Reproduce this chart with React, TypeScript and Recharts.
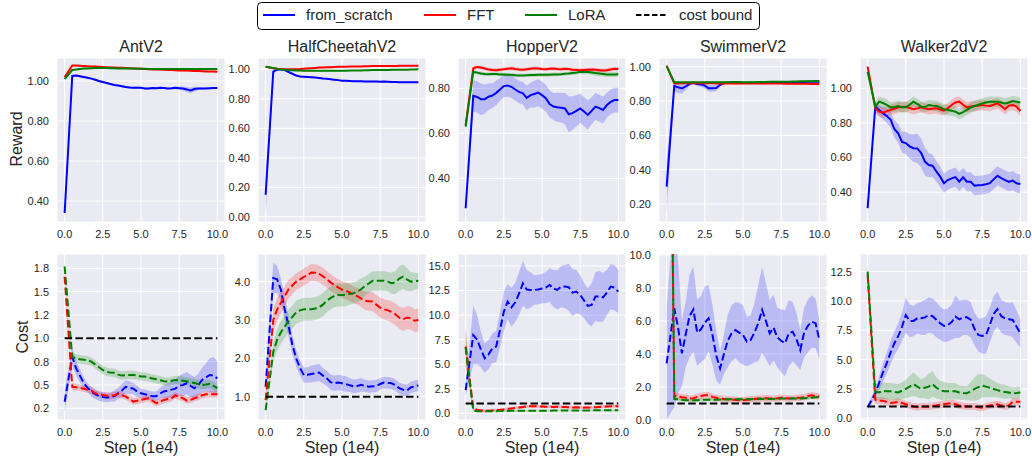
import React from "react";
import {
  ComposedChart,
  Line,
  Area,
  XAxis,
  YAxis,
  CartesianGrid,
  ReferenceLine,
} from "recharts";

// training steps (1e4)
const X = [0, 0.5, 0.75, 1, 1.25, 1.5, 1.75, 2, 2.25, 2.5, 2.75, 3, 3.25, 3.5, 3.75, 4, 4.25, 4.5, 4.75, 5, 5.25, 5.5, 5.75, 6, 6.25, 6.5, 6.75, 7, 7.25, 7.5, 7.75, 8, 8.25, 8.5, 8.75, 9, 9.25, 9.5, 9.75, 10];
const X_TICKS = [0, 2.5, 5, 7.5, 10];
const COST_BOUND = 1;

const METHODS = ["from_scratch", "FFT", "LoRA"];
const ENVS = ["AntV2", "HalfCheetahV2", "HopperV2", "SwimmerV2", "Walker2dV2"];

// ---- reward, AntV2
const ANT_R_SCRATCH = [0.34, 1.025, 1.027, 1.024, 1.02, 1.016, 1.012, 1.006, 1.0, 0.995, 0.99, 0.985, 0.98, 0.977, 0.974, 0.97, 0.967, 0.966, 0.966, 0.966, 0.963, 0.963, 0.965, 0.964, 0.966, 0.965, 0.963, 0.964, 0.966, 0.964, 0.962, 0.958, 0.953, 0.96, 0.962, 0.963, 0.962, 0.964, 0.965, 0.965];
const ANT_R_SCRATCH_SD = [0.02, 0.006, 0.005, 0.005, 0.005, 0.005, 0.005, 0.005, 0.005, 0.005, 0.005, 0.005, 0.005, 0.005, 0.005, 0.005, 0.005, 0.005, 0.005, 0.005, 0.005, 0.005, 0.005, 0.005, 0.005, 0.005, 0.005, 0.006, 0.007, 0.008, 0.01, 0.013, 0.015, 0.012, 0.008, 0.006, 0.005, 0.005, 0.005, 0.005];
const ANT_R_FFT = [1.02, 1.077, 1.077, 1.076, 1.075, 1.074, 1.073, 1.072, 1.071, 1.07, 1.069, 1.068, 1.067, 1.066, 1.066, 1.065, 1.064, 1.063, 1.062, 1.061, 1.06, 1.059, 1.058, 1.058, 1.057, 1.056, 1.055, 1.055, 1.054, 1.053, 1.052, 1.052, 1.051, 1.05, 1.05, 1.049, 1.048, 1.047, 1.047, 1.046];
const ANT_R_FFT_SD = [0.004, 0.004, 0.004, 0.004, 0.004, 0.004, 0.004, 0.004, 0.004, 0.004, 0.004, 0.004, 0.004, 0.004, 0.004, 0.004, 0.004, 0.004, 0.004, 0.004, 0.004, 0.004, 0.004, 0.004, 0.004, 0.004, 0.004, 0.004, 0.004, 0.004, 0.004, 0.004, 0.004, 0.004, 0.004, 0.004, 0.004, 0.004, 0.004, 0.004];
const ANT_R_LORA = [1.01, 1.055, 1.058, 1.06, 1.062, 1.063, 1.064, 1.065, 1.065, 1.065, 1.065, 1.064, 1.064, 1.063, 1.063, 1.062, 1.062, 1.062, 1.061, 1.061, 1.061, 1.06, 1.06, 1.06, 1.06, 1.06, 1.06, 1.06, 1.06, 1.06, 1.06, 1.06, 1.06, 1.06, 1.06, 1.06, 1.06, 1.06, 1.06, 1.06];
const ANT_R_LORA_SD = [0.004, 0.004, 0.004, 0.004, 0.004, 0.004, 0.004, 0.004, 0.004, 0.004, 0.004, 0.004, 0.004, 0.004, 0.004, 0.004, 0.004, 0.004, 0.004, 0.004, 0.004, 0.004, 0.004, 0.004, 0.004, 0.004, 0.004, 0.004, 0.004, 0.004, 0.004, 0.004, 0.004, 0.004, 0.004, 0.004, 0.004, 0.004, 0.004, 0.004];

// ---- reward, HalfCheetahV2
const HC_R_SCRATCH = [0.15, 0.985, 0.998, 1.0, 0.995, 0.982, 0.97, 0.958, 0.952, 0.95, 0.948, 0.946, 0.944, 0.941, 0.938, 0.936, 0.933, 0.93, 0.927, 0.923, 0.922, 0.921, 0.92, 0.92, 0.919, 0.918, 0.918, 0.917, 0.917, 0.916, 0.917, 0.916, 0.915, 0.914, 0.913, 0.912, 0.912, 0.912, 0.912, 0.912];
const HC_R_SCRATCH_SD = [0.14, 0.02, 0.006, 0.005, 0.005, 0.005, 0.005, 0.005, 0.005, 0.005, 0.005, 0.005, 0.005, 0.005, 0.005, 0.005, 0.005, 0.005, 0.005, 0.005, 0.005, 0.005, 0.005, 0.005, 0.005, 0.005, 0.005, 0.005, 0.005, 0.005, 0.005, 0.005, 0.005, 0.005, 0.005, 0.005, 0.005, 0.005, 0.005, 0.005];
const HC_R_FFT = [1.018, 1.008, 1.004, 1.002, 1.0, 1.0, 1.0, 1.001, 1.002, 1.004, 1.006, 1.008, 1.01, 1.012, 1.013, 1.014, 1.015, 1.016, 1.017, 1.018, 1.018, 1.019, 1.02, 1.02, 1.02, 1.021, 1.021, 1.022, 1.022, 1.022, 1.022, 1.023, 1.023, 1.023, 1.024, 1.024, 1.024, 1.024, 1.025, 1.025];
const HC_R_FFT_SD = [0.004, 0.004, 0.004, 0.004, 0.004, 0.004, 0.004, 0.004, 0.004, 0.004, 0.004, 0.004, 0.004, 0.004, 0.004, 0.004, 0.004, 0.004, 0.004, 0.004, 0.004, 0.004, 0.004, 0.004, 0.004, 0.004, 0.004, 0.004, 0.004, 0.004, 0.004, 0.004, 0.004, 0.004, 0.004, 0.004, 0.004, 0.004, 0.004, 0.004];
const HC_R_LORA = [1.018, 1.01, 1.004, 0.999, 0.997, 0.995, 0.994, 0.993, 0.992, 0.991, 0.991, 0.99, 0.99, 0.99, 0.99, 0.99, 0.99, 0.99, 0.991, 0.991, 0.991, 0.992, 0.992, 0.993, 0.993, 0.994, 0.994, 0.995, 0.995, 0.995, 0.996, 0.996, 0.997, 0.997, 0.998, 0.998, 0.998, 0.999, 0.999, 1.0];
const HC_R_LORA_SD = [0.004, 0.004, 0.004, 0.004, 0.004, 0.004, 0.004, 0.004, 0.004, 0.004, 0.004, 0.004, 0.004, 0.004, 0.004, 0.004, 0.004, 0.004, 0.004, 0.004, 0.004, 0.004, 0.004, 0.004, 0.004, 0.004, 0.004, 0.004, 0.004, 0.004, 0.004, 0.004, 0.004, 0.004, 0.004, 0.004, 0.004, 0.004, 0.004, 0.004];

// ---- reward, HopperV2
const HOP_R_SCRATCH = [0.267, 0.767, 0.762, 0.752, 0.752, 0.763, 0.768, 0.78, 0.795, 0.81, 0.813, 0.807, 0.795, 0.784, 0.778, 0.758, 0.77, 0.775, 0.781, 0.77, 0.756, 0.73, 0.719, 0.716, 0.714, 0.711, 0.685, 0.69, 0.7, 0.711, 0.697, 0.682, 0.7, 0.719, 0.712, 0.704, 0.726, 0.74, 0.748, 0.748];
const HOP_R_SCRATCH_SD = [0.02, 0.07, 0.07, 0.07, 0.065, 0.06, 0.055, 0.055, 0.05, 0.05, 0.05, 0.05, 0.05, 0.05, 0.05, 0.055, 0.055, 0.06, 0.06, 0.06, 0.06, 0.06, 0.06, 0.065, 0.065, 0.07, 0.08, 0.075, 0.07, 0.065, 0.065, 0.065, 0.06, 0.06, 0.06, 0.06, 0.055, 0.055, 0.055, 0.055];
const HOP_R_FFT = [0.637, 0.889, 0.895, 0.893, 0.888, 0.884, 0.882, 0.881, 0.883, 0.885, 0.887, 0.889, 0.886, 0.884, 0.883, 0.885, 0.887, 0.889, 0.888, 0.886, 0.885, 0.887, 0.888, 0.886, 0.885, 0.887, 0.886, 0.883, 0.882, 0.881, 0.882, 0.883, 0.884, 0.883, 0.881, 0.879, 0.881, 0.884, 0.887, 0.886];
const HOP_R_FFT_SD = [0.015, 0.008, 0.008, 0.008, 0.008, 0.008, 0.008, 0.008, 0.008, 0.008, 0.008, 0.008, 0.008, 0.008, 0.008, 0.008, 0.008, 0.008, 0.008, 0.008, 0.008, 0.008, 0.008, 0.008, 0.008, 0.008, 0.008, 0.008, 0.008, 0.008, 0.008, 0.008, 0.008, 0.008, 0.008, 0.008, 0.008, 0.008, 0.008, 0.008];
const HOP_R_LORA = [0.63, 0.874, 0.87, 0.866, 0.864, 0.863, 0.864, 0.864, 0.862, 0.862, 0.861, 0.86, 0.858, 0.857, 0.857, 0.858, 0.859, 0.859, 0.86, 0.86, 0.86, 0.861, 0.862, 0.862, 0.863, 0.865, 0.866, 0.868, 0.87, 0.874, 0.873, 0.873, 0.871, 0.868, 0.866, 0.864, 0.862, 0.862, 0.862, 0.863];
const HOP_R_LORA_SD = [0.015, 0.008, 0.008, 0.008, 0.008, 0.008, 0.008, 0.008, 0.008, 0.008, 0.008, 0.008, 0.008, 0.008, 0.008, 0.008, 0.008, 0.008, 0.008, 0.008, 0.008, 0.008, 0.008, 0.008, 0.008, 0.008, 0.008, 0.009, 0.009, 0.01, 0.01, 0.01, 0.011, 0.011, 0.012, 0.012, 0.012, 0.012, 0.012, 0.012];

// ---- reward, SwimmerV2
const SW_R_SCRATCH = [0.301, 0.888, 0.88, 0.874, 0.885, 0.9, 0.907, 0.9, 0.897, 0.89, 0.874, 0.874, 0.876, 0.895, 0.905, 0.906, 0.906, 0.905, 0.906, 0.905, 0.906, 0.907, 0.906, 0.907, 0.906, 0.907, 0.908, 0.908, 0.908, 0.909, 0.909, 0.91, 0.91, 0.911, 0.911, 0.911, 0.912, 0.912, 0.912, 0.913];
const SW_R_SCRATCH_SD = [0.155, 0.03, 0.035, 0.03, 0.02, 0.012, 0.01, 0.012, 0.015, 0.018, 0.02, 0.02, 0.018, 0.012, 0.008, 0.007, 0.007, 0.007, 0.006, 0.006, 0.006, 0.006, 0.006, 0.006, 0.006, 0.006, 0.006, 0.006, 0.006, 0.006, 0.006, 0.006, 0.006, 0.006, 0.006, 0.006, 0.006, 0.006, 0.006, 0.006];
const SW_R_FFT = [1.006, 0.903, 0.903, 0.904, 0.904, 0.904, 0.904, 0.904, 0.904, 0.904, 0.904, 0.904, 0.903, 0.903, 0.903, 0.903, 0.903, 0.903, 0.902, 0.902, 0.902, 0.902, 0.902, 0.902, 0.902, 0.902, 0.902, 0.902, 0.902, 0.902, 0.901, 0.901, 0.901, 0.901, 0.901, 0.901, 0.901, 0.9, 0.9, 0.9];
const SW_R_FFT_SD = [0.004, 0.004, 0.004, 0.004, 0.004, 0.004, 0.004, 0.004, 0.004, 0.004, 0.004, 0.004, 0.004, 0.004, 0.004, 0.004, 0.004, 0.004, 0.004, 0.004, 0.004, 0.004, 0.004, 0.004, 0.004, 0.004, 0.004, 0.004, 0.004, 0.004, 0.004, 0.004, 0.004, 0.004, 0.004, 0.004, 0.004, 0.004, 0.004, 0.004];
const SW_R_LORA = [1.004, 0.908, 0.909, 0.909, 0.909, 0.909, 0.909, 0.909, 0.909, 0.909, 0.909, 0.909, 0.909, 0.909, 0.91, 0.91, 0.911, 0.911, 0.911, 0.91, 0.91, 0.91, 0.91, 0.911, 0.911, 0.911, 0.912, 0.912, 0.912, 0.912, 0.913, 0.913, 0.914, 0.914, 0.915, 0.915, 0.916, 0.916, 0.917, 0.917];
const SW_R_LORA_SD = [0.004, 0.004, 0.004, 0.004, 0.004, 0.004, 0.004, 0.004, 0.004, 0.004, 0.004, 0.004, 0.004, 0.004, 0.004, 0.004, 0.004, 0.004, 0.004, 0.004, 0.004, 0.004, 0.004, 0.004, 0.004, 0.004, 0.004, 0.004, 0.004, 0.004, 0.004, 0.004, 0.004, 0.004, 0.004, 0.004, 0.004, 0.004, 0.004, 0.004];

// ---- reward, Walker2dV2
const WALK_R_SCRATCH = [0.308, 0.894, 0.875, 0.856, 0.84, 0.82, 0.765, 0.74, 0.69, 0.684, 0.665, 0.654, 0.653, 0.627, 0.577, 0.557, 0.553, 0.52, 0.49, 0.452, 0.47, 0.48, 0.487, 0.461, 0.486, 0.461, 0.46, 0.438, 0.44, 0.442, 0.446, 0.452, 0.474, 0.495, 0.482, 0.47, 0.46, 0.467, 0.452, 0.448];
const WALK_R_SCRATCH_SD = [0.04, 0.03, 0.03, 0.035, 0.04, 0.045, 0.05, 0.055, 0.06, 0.065, 0.07, 0.08, 0.085, 0.085, 0.08, 0.07, 0.065, 0.06, 0.06, 0.055, 0.055, 0.055, 0.055, 0.055, 0.055, 0.055, 0.055, 0.055, 0.055, 0.055, 0.055, 0.055, 0.055, 0.055, 0.055, 0.055, 0.055, 0.055, 0.055, 0.055];
const WALK_R_FFT = [1.125, 0.885, 0.865, 0.859, 0.868, 0.875, 0.882, 0.89, 0.892, 0.894, 0.886, 0.879, 0.884, 0.89, 0.884, 0.879, 0.882, 0.885, 0.878, 0.871, 0.885, 0.904, 0.918, 0.923, 0.905, 0.89, 0.895, 0.898, 0.9, 0.904, 0.9, 0.898, 0.905, 0.913, 0.898, 0.879, 0.9, 0.904, 0.895, 0.869];
const WALK_R_FFT_SD = [0.012, 0.025, 0.03, 0.03, 0.03, 0.03, 0.03, 0.03, 0.03, 0.03, 0.03, 0.03, 0.03, 0.03, 0.03, 0.03, 0.03, 0.03, 0.03, 0.03, 0.03, 0.03, 0.03, 0.03, 0.03, 0.03, 0.03, 0.03, 0.03, 0.03, 0.03, 0.03, 0.03, 0.03, 0.03, 0.03, 0.03, 0.03, 0.03, 0.03];
const WALK_R_LORA = [1.096, 0.894, 0.923, 0.915, 0.905, 0.89, 0.892, 0.898, 0.89, 0.89, 0.905, 0.923, 0.91, 0.894, 0.892, 0.904, 0.9, 0.898, 0.89, 0.879, 0.875, 0.871, 0.865, 0.852, 0.862, 0.875, 0.888, 0.898, 0.905, 0.913, 0.918, 0.923, 0.923, 0.923, 0.918, 0.913, 0.918, 0.926, 0.922, 0.918];
const WALK_R_LORA_SD = [0.012, 0.03, 0.03, 0.03, 0.03, 0.03, 0.03, 0.03, 0.03, 0.03, 0.03, 0.03, 0.03, 0.03, 0.03, 0.03, 0.03, 0.03, 0.03, 0.03, 0.03, 0.03, 0.03, 0.03, 0.03, 0.03, 0.03, 0.03, 0.03, 0.03, 0.03, 0.03, 0.03, 0.03, 0.03, 0.03, 0.03, 0.03, 0.03, 0.03];

// ---- cost, AntV2
const ANT_C_SCRATCH = [0.32, 0.8, 0.68, 0.6, 0.52, 0.47, 0.43, 0.4, 0.38, 0.37, 0.365, 0.37, 0.38, 0.41, 0.44, 0.48, 0.47, 0.46, 0.43, 0.41, 0.4, 0.39, 0.38, 0.38, 0.41, 0.43, 0.44, 0.45, 0.46, 0.49, 0.5, 0.518, 0.49, 0.464, 0.5, 0.553, 0.58, 0.607, 0.6, 0.57];
const ANT_C_SCRATCH_SD = [0.12, 0.1, 0.08, 0.07, 0.06, 0.05, 0.05, 0.05, 0.05, 0.05, 0.05, 0.05, 0.06, 0.06, 0.07, 0.07, 0.07, 0.06, 0.06, 0.05, 0.05, 0.05, 0.05, 0.05, 0.06, 0.07, 0.08, 0.09, 0.1, 0.11, 0.12, 0.12, 0.12, 0.12, 0.12, 0.13, 0.15, 0.18, 0.2, 0.18];
const ANT_C_FFT = [1.66, 0.48, 0.475, 0.47, 0.46, 0.45, 0.44, 0.41, 0.4, 0.393, 0.385, 0.382, 0.39, 0.404, 0.39, 0.375, 0.35, 0.321, 0.33, 0.339, 0.35, 0.357, 0.33, 0.304, 0.32, 0.339, 0.35, 0.357, 0.39, 0.37, 0.357, 0.332, 0.34, 0.357, 0.37, 0.39, 0.4, 0.4, 0.4, 0.4];
const ANT_C_FFT_SD = [0.06, 0.04, 0.035, 0.035, 0.035, 0.035, 0.035, 0.035, 0.035, 0.035, 0.035, 0.035, 0.035, 0.035, 0.035, 0.035, 0.035, 0.035, 0.035, 0.035, 0.035, 0.035, 0.035, 0.035, 0.035, 0.035, 0.035, 0.035, 0.035, 0.035, 0.035, 0.035, 0.035, 0.035, 0.035, 0.035, 0.035, 0.035, 0.035, 0.035];
const ANT_C_LORA = [1.77, 0.8, 0.785, 0.775, 0.77, 0.765, 0.75, 0.72, 0.69, 0.66, 0.64, 0.632, 0.63, 0.61, 0.6, 0.605, 0.607, 0.607, 0.6, 0.59, 0.59, 0.58, 0.57, 0.56, 0.55, 0.54, 0.536, 0.545, 0.553, 0.55, 0.546, 0.54, 0.53, 0.52, 0.51, 0.5, 0.505, 0.511, 0.49, 0.465];
const ANT_C_LORA_SD = [0.05, 0.045, 0.045, 0.045, 0.045, 0.045, 0.045, 0.045, 0.045, 0.045, 0.045, 0.045, 0.045, 0.045, 0.045, 0.045, 0.045, 0.045, 0.045, 0.045, 0.045, 0.045, 0.045, 0.045, 0.045, 0.045, 0.045, 0.045, 0.045, 0.045, 0.045, 0.045, 0.045, 0.045, 0.045, 0.045, 0.045, 0.045, 0.045, 0.045];

// ---- cost, HalfCheetahV2
const HC_C_SCRATCH = [1.26, 4.09, 4.06, 3.79, 3.27, 2.85, 2.35, 2.0, 1.75, 1.56, 1.57, 1.59, 1.61, 1.63, 1.55, 1.48, 1.38, 1.35, 1.37, 1.35, 1.33, 1.3, 1.27, 1.28, 1.31, 1.28, 1.26, 1.27, 1.28, 1.33, 1.37, 1.36, 1.35, 1.3, 1.22, 1.18, 1.16, 1.24, 1.27, 1.29];
const HC_C_SCRATCH_SD = [0.3, 0.4, 0.35, 0.3, 0.3, 0.28, 0.25, 0.22, 0.2, 0.2, 0.2, 0.22, 0.22, 0.22, 0.2, 0.2, 0.2, 0.2, 0.2, 0.2, 0.2, 0.18, 0.18, 0.18, 0.18, 0.16, 0.16, 0.16, 0.16, 0.15, 0.15, 0.15, 0.15, 0.15, 0.15, 0.15, 0.15, 0.15, 0.15, 0.15];
const HC_C_FFT = [0.91, 3.0, 3.27, 3.45, 3.62, 3.8, 3.9, 4.0, 4.06, 4.12, 4.18, 4.24, 4.23, 4.2, 4.14, 4.06, 3.98, 3.91, 3.85, 3.79, 3.76, 3.72, 3.66, 3.62, 3.56, 3.5, 3.49, 3.48, 3.4, 3.32, 3.28, 3.25, 3.21, 3.15, 3.06, 3.02, 3.06, 3.05, 2.98, 3.0];
const HC_C_FFT_SD = [0.1, 0.3, 0.3, 0.28, 0.26, 0.24, 0.22, 0.22, 0.22, 0.22, 0.22, 0.22, 0.22, 0.22, 0.22, 0.22, 0.22, 0.22, 0.22, 0.22, 0.22, 0.22, 0.22, 0.22, 0.22, 0.24, 0.24, 0.25, 0.25, 0.26, 0.26, 0.27, 0.28, 0.28, 0.29, 0.3, 0.3, 0.3, 0.3, 0.3];
const HC_C_LORA = [0.65, 2.17, 2.48, 2.68, 2.83, 2.97, 3.08, 3.2, 3.25, 3.28, 3.28, 3.28, 3.3, 3.33, 3.4, 3.5, 3.57, 3.63, 3.65, 3.65, 3.66, 3.68, 3.7, 3.74, 3.8, 3.88, 3.95, 4.02, 4.02, 4.02, 4.02, 4.0, 3.96, 3.98, 4.08, 4.13, 4.06, 4.0, 4.01, 4.02];
const HC_C_LORA_SD = [0.1, 0.25, 0.28, 0.3, 0.3, 0.3, 0.3, 0.3, 0.3, 0.3, 0.3, 0.3, 0.3, 0.3, 0.3, 0.3, 0.3, 0.3, 0.3, 0.3, 0.3, 0.28, 0.28, 0.28, 0.28, 0.25, 0.25, 0.25, 0.25, 0.25, 0.25, 0.25, 0.28, 0.3, 0.32, 0.32, 0.3, 0.25, 0.22, 0.2];

// ---- cost, HopperV2
const HOP_C_SCRATCH = [2.37, 7.97, 7.5, 6.5, 5.6, 6.0, 6.62, 6.8, 8.48, 10.35, 11.37, 10.79, 11.3, 12.2, 13.24, 12.6, 12.56, 12.56, 12.6, 12.7, 12.8, 13.07, 12.7, 12.56, 12.9, 12.9, 12.84, 12.29, 12.39, 12.05, 11.5, 10.93, 11.03, 11.9, 11.9, 11.81, 12.3, 12.9, 12.8, 12.39];
const HOP_C_SCRATCH_SD = [0.6, 3.0, 2.5, 1.8, 1.5, 1.5, 1.5, 1.6, 1.8, 2.0, 1.8, 2.0, 2.0, 2.2, 2.3, 2.0, 1.8, 1.5, 1.5, 1.5, 1.6, 1.7, 1.9, 2.0, 2.1, 2.2, 2.4, 2.4, 2.2, 2.0, 1.8, 1.8, 2.2, 2.5, 2.6, 2.5, 2.3, 2.3, 2.3, 2.2];
const HOP_C_FFT = [6.8, 0.5, 0.35, 0.28, 0.27, 0.27, 0.3, 0.32, 0.35, 0.4, 0.45, 0.5, 0.55, 0.6, 0.65, 0.7, 0.72, 0.72, 0.7, 0.7, 0.68, 0.66, 0.65, 0.66, 0.65, 0.64, 0.62, 0.6, 0.62, 0.6, 0.58, 0.58, 0.6, 0.62, 0.65, 0.68, 0.7, 0.72, 0.75, 0.7];
const HOP_C_FFT_SD = [2.0, 0.15, 0.15, 0.15, 0.15, 0.15, 0.15, 0.15, 0.15, 0.15, 0.15, 0.15, 0.15, 0.15, 0.15, 0.15, 0.15, 0.15, 0.15, 0.15, 0.15, 0.15, 0.15, 0.15, 0.15, 0.15, 0.15, 0.15, 0.15, 0.15, 0.15, 0.15, 0.15, 0.15, 0.15, 0.15, 0.15, 0.15, 0.15, 0.15];
const HOP_C_LORA = [6.7, 0.27, 0.22, 0.2, 0.2, 0.2, 0.22, 0.22, 0.23, 0.23, 0.24, 0.25, 0.25, 0.25, 0.25, 0.25, 0.26, 0.26, 0.26, 0.27, 0.27, 0.27, 0.28, 0.28, 0.28, 0.28, 0.28, 0.29, 0.29, 0.29, 0.29, 0.29, 0.3, 0.3, 0.3, 0.3, 0.3, 0.3, 0.3, 0.3];
const HOP_C_LORA_SD = [1.8, 0.08, 0.08, 0.08, 0.08, 0.08, 0.08, 0.08, 0.08, 0.08, 0.08, 0.08, 0.08, 0.08, 0.08, 0.08, 0.08, 0.08, 0.08, 0.08, 0.08, 0.08, 0.08, 0.08, 0.08, 0.08, 0.08, 0.08, 0.08, 0.08, 0.08, 0.08, 0.08, 0.08, 0.08, 0.08, 0.08, 0.08, 0.08, 0.08];

// ---- cost, SwimmerV2
const SW_C_SCRATCH = [3.43, 6.77, 5.6, 4.04, 5.2, 6.3, 6.7, 5.3, 5.5, 5.9, 6.16, 5.15, 3.9, 3.13, 4.0, 4.8, 5.25, 5.45, 5.3, 5.15, 4.75, 4.85, 5.3, 5.86, 6.67, 6.0, 5.25, 5.6, 5.0, 4.8, 4.65, 5.25, 5.35, 4.9, 4.24, 5.3, 5.7, 5.96, 5.86, 4.85];
const SW_C_SCRATCH_SD = [3.4, 6.0, 4.0, 2.0, 2.0, 2.5, 2.6, 2.0, 2.0, 2.2, 2.0, 1.8, 1.5, 1.0, 1.2, 1.6, 1.7, 1.7, 1.8, 1.8, 1.5, 1.5, 1.8, 2.3, 2.6, 2.3, 2.0, 2.0, 1.8, 1.9, 2.0, 2.0, 1.8, 1.6, 1.2, 1.5, 1.6, 1.6, 1.5, 1.2];
const SW_C_FFT = [45, 1.47, 1.42, 1.38, 1.35, 1.3, 1.32, 1.4, 1.45, 1.5, 1.5, 1.4, 1.35, 1.3, 1.28, 1.25, 1.22, 1.22, 1.2, 1.2, 1.22, 1.25, 1.27, 1.3, 1.3, 1.32, 1.3, 1.3, 1.32, 1.35, 1.33, 1.3, 1.32, 1.35, 1.35, 1.38, 1.45, 1.5, 1.45, 1.42];
const SW_C_FFT_SD = [5, 0.2, 0.2, 0.2, 0.2, 0.2, 0.2, 0.2, 0.2, 0.2, 0.2, 0.2, 0.2, 0.2, 0.2, 0.2, 0.2, 0.2, 0.2, 0.2, 0.2, 0.2, 0.2, 0.2, 0.2, 0.2, 0.2, 0.2, 0.2, 0.2, 0.2, 0.2, 0.2, 0.2, 0.2, 0.2, 0.2, 0.2, 0.2, 0.2];
const SW_C_LORA = [46, 1.27, 1.25, 1.22, 1.2, 1.2, 1.2, 1.2, 1.22, 1.22, 1.22, 1.22, 1.22, 1.24, 1.24, 1.25, 1.25, 1.25, 1.25, 1.25, 1.26, 1.26, 1.27, 1.28, 1.28, 1.28, 1.28, 1.28, 1.28, 1.3, 1.3, 1.3, 1.3, 1.3, 1.3, 1.32, 1.33, 1.35, 1.38, 1.4];
const SW_C_LORA_SD = [5, 0.1, 0.1, 0.1, 0.1, 0.1, 0.1, 0.1, 0.1, 0.1, 0.1, 0.1, 0.1, 0.1, 0.1, 0.1, 0.1, 0.1, 0.1, 0.1, 0.1, 0.1, 0.1, 0.1, 0.1, 0.1, 0.1, 0.1, 0.1, 0.1, 0.1, 0.1, 0.1, 0.1, 0.1, 0.1, 0.1, 0.1, 0.1, 0.1];

// ---- cost, Walker2dV2
const WALK_C_SCRATCH = [0.94, 2.13, 3.0, 3.9, 4.7, 5.6, 6.4, 7.0, 7.8, 8.8, 8.3, 8.3, 8.52, 8.52, 8.6, 8.8, 8.7, 8.4, 8.1, 7.87, 7.95, 8.2, 8.66, 8.44, 8.6, 8.6, 8.4, 7.6, 7.1, 7.02, 7.1, 7.95, 8.9, 9.3, 8.7, 8.5, 8.44, 8.38, 7.81, 7.24];
const WALK_C_SCRATCH_SD = [0.2, 0.4, 0.6, 0.8, 0.9, 1.0, 1.0, 1.1, 1.2, 1.5, 1.4, 1.3, 1.3, 1.4, 1.5, 1.5, 1.5, 1.5, 1.4, 1.4, 1.4, 1.5, 1.8, 1.6, 1.5, 1.5, 1.5, 1.4, 1.4, 1.5, 1.6, 1.5, 1.5, 1.5, 1.4, 1.4, 1.4, 1.5, 1.4, 1.2];
const WALK_C_FFT = [12.2, 1.56, 1.5, 1.5, 1.4, 1.3, 1.35, 1.4, 1.3, 1.2, 1.1, 1.0, 0.95, 1.0, 1.0, 1.0, 1.05, 1.1, 1.15, 1.2, 1.25, 1.3, 1.2, 1.1, 1.05, 1.0, 1.0, 1.0, 0.95, 0.9, 1.0, 1.1, 1.15, 1.2, 1.1, 1.0, 1.1, 1.4, 1.4, 1.4];
const WALK_C_FFT_SD = [0.5, 0.3, 0.3, 0.3, 0.3, 0.3, 0.3, 0.3, 0.3, 0.3, 0.3, 0.3, 0.3, 0.3, 0.3, 0.3, 0.3, 0.3, 0.3, 0.3, 0.3, 0.3, 0.3, 0.3, 0.3, 0.3, 0.3, 0.3, 0.3, 0.3, 0.3, 0.3, 0.3, 0.3, 0.3, 0.3, 0.3, 0.3, 0.3, 0.3];
const WALK_C_LORA = [12.5, 2.27, 2.2, 2.35, 2.3, 2.3, 2.25, 2.2, 2.35, 2.5, 2.7, 2.92, 2.7, 2.5, 2.6, 2.7, 2.92, 2.6, 2.4, 2.3, 2.3, 2.3, 2.3, 2.2, 2.15, 2.13, 2.3, 2.5, 2.65, 2.78, 2.7, 2.6, 2.5, 2.4, 2.3, 2.25, 2.2, 2.13, 2.15, 2.2];
const WALK_C_LORA_SD = [0.7, 0.7, 0.7, 0.7, 0.7, 0.7, 0.7, 0.7, 0.7, 0.8, 0.9, 1.0, 0.9, 0.8, 0.9, 1.1, 1.1, 0.9, 0.8, 0.8, 0.7, 0.7, 0.7, 0.6, 0.6, 0.6, 0.8, 1.0, 1.1, 1.0, 0.9, 0.8, 0.7, 0.6, 0.6, 0.6, 0.5, 0.5, 0.5, 0.5];

// y axes
const ANT_COST_TICKS = [0.25, 0.5, 0.75, 1.0, 1.25, 1.5, 1.75];
const ANT_COST_TICK_LABELS = ["0.2", "0.5", "0.8", "1.0", "1.2", "1.5", "1.8"];

const BLUE = "#0000ff";
const RED = "#ff0000";
const GREEN = "#008000";
const TEXT = "#262626";
const FONT = '"Liberation Sans", Arial, sans-serif';

type Panel = {
  scratch: number[];
  scratchSd: number[];
  fft: number[];
  fftSd: number[];
  lora: number[];
  loraSd: number[];
  domain: [number, number];
  ticks: number[];
  labels?: string[];
  digits: number;
};

const REWARD_PANELS: Panel[] = [
  { scratch: ANT_R_SCRATCH, scratchSd: ANT_R_SCRATCH_SD, fft: ANT_R_FFT, fftSd: ANT_R_FFT_SD, lora: ANT_R_LORA, loraSd: ANT_R_LORA_SD, domain: [0.295, 1.115], ticks: [0.4, 0.6, 0.8, 1.0], digits: 2 },
  { scratch: HC_R_SCRATCH, scratchSd: HC_R_SCRATCH_SD, fft: HC_R_FFT, fftSd: HC_R_FFT_SD, lora: HC_R_LORA, loraSd: HC_R_LORA_SD, domain: [-0.035, 1.077], ticks: [0, 0.2, 0.4, 0.6, 0.8, 1.0], digits: 2 },
  { scratch: HOP_R_SCRATCH, scratchSd: HOP_R_SCRATCH_SD, fft: HOP_R_FFT, fftSd: HOP_R_FFT_SD, lora: HOP_R_LORA, loraSd: HOP_R_LORA_SD, domain: [0.206, 0.935], ticks: [0.4, 0.6, 0.8], digits: 2 },
  { scratch: SW_R_SCRATCH, scratchSd: SW_R_SCRATCH_SD, fft: SW_R_FFT, fftSd: SW_R_FFT_SD, lora: SW_R_LORA, loraSd: SW_R_LORA_SD, domain: [0.095, 1.051], ticks: [0.2, 0.4, 0.6, 0.8, 1.0], digits: 2 },
  { scratch: WALK_R_SCRATCH, scratchSd: WALK_R_SCRATCH_SD, fft: WALK_R_FFT, fftSd: WALK_R_FFT_SD, lora: WALK_R_LORA, loraSd: WALK_R_LORA_SD, domain: [0.228, 1.175], ticks: [0.4, 0.6, 0.8, 1.0], digits: 2 },
];

const COST_PANELS: Panel[] = [
  { scratch: ANT_C_SCRATCH, scratchSd: ANT_C_SCRATCH_SD, fft: ANT_C_FFT, fftSd: ANT_C_FFT_SD, lora: ANT_C_LORA, loraSd: ANT_C_LORA_SD, domain: [0.124, 1.904], ticks: ANT_COST_TICKS, labels: ANT_COST_TICK_LABELS, digits: 1 },
  { scratch: HC_C_SCRATCH, scratchSd: HC_C_SCRATCH_SD, fft: HC_C_FFT, fftSd: HC_C_FFT_SD, lora: HC_C_LORA, loraSd: HC_C_LORA_SD, domain: [0.392, 4.72], ticks: [1, 2, 3, 4], digits: 1 },
  { scratch: HOP_C_SCRATCH, scratchSd: HOP_C_SCRATCH_SD, fft: HOP_C_FFT, fftSd: HOP_C_FFT_SD, lora: HOP_C_LORA, loraSd: HOP_C_LORA_SD, domain: [-0.68, 16.22], ticks: [0, 2.5, 5, 7.5, 10, 12.5, 15], digits: 1 },
  { scratch: SW_C_SCRATCH, scratchSd: SW_C_SCRATCH_SD, fft: SW_C_FFT, fftSd: SW_C_FFT_SD, lora: SW_C_LORA, loraSd: SW_C_LORA_SD, domain: [0, 10.06], ticks: [0, 2, 4, 6, 8, 10], digits: 1 },
  { scratch: WALK_C_SCRATCH, scratchSd: WALK_C_SCRATCH_SD, fft: WALK_C_FFT, fftSd: WALK_C_FFT_SD, lora: WALK_C_LORA, loraSd: WALK_C_LORA_SD, domain: [-0.145, 14.0], ticks: [0, 2.5, 5, 7.5, 10, 12.5], digits: 1 },
];

const PLOT_LEFT = [57, 258, 458, 659, 860];
const PLOT_W = 168;
const AXIS_W = 40;
const PAD_TOP = 10;
const PAD_RIGHT = 10;
const XAXIS_H = 22;
const DASH = "7.5 3.3";

function PanelChart({ p, left, top, height, cost }: { p: Panel; left: number; top: number; height: number; cost: boolean }) {
  const rows = X.map((x, i) => ({
    x,
    scratch: p.scratch[i],
    scratchBand: [p.scratch[i] - p.scratchSd[i], p.scratch[i] + p.scratchSd[i]],
    fft: p.fft[i],
    fftBand: [p.fft[i] - p.fftSd[i], p.fft[i] + p.fftSd[i]],
    lora: p.lora[i],
    loraBand: [p.lora[i] - p.loraSd[i], p.lora[i] + p.loraSd[i]],
  }));
  const fmtY = (v: number) => {
    if (p.labels) return p.labels[p.ticks.indexOf(v)] ?? "";
    return v.toFixed(p.digits);
  };
  const dash = cost ? DASH : undefined;
  const tick = { fill: TEXT, fontSize: 11 };
  return (
    <div style={{ position: "absolute", left: left - AXIS_W, top: top - PAD_TOP }}>
      <ComposedChart
        width={AXIS_W + PLOT_W + PAD_RIGHT}
        height={PAD_TOP + height + XAXIS_H}
        data={rows}
        margin={{ top: PAD_TOP, right: PAD_RIGHT, bottom: 0, left: 0 }}
      >
        <CartesianGrid fill="#eaeaf2" fillOpacity={1} stroke="#ffffff" strokeWidth={1} />
        <XAxis
          type="number"
          dataKey="x"
          domain={[-0.5, 10.5]}
          ticks={X_TICKS}
          interval={0}
          tickFormatter={(v: number) => v.toFixed(1)}
          axisLine={false}
          tickLine={false}
          height={XAXIS_H}
          tick={tick}
        />
        <YAxis
          type="number"
          domain={p.domain}
          allowDataOverflow
          ticks={p.ticks}
          interval={0}
          tickFormatter={fmtY}
          axisLine={false}
          tickLine={false}
          width={AXIS_W}
          tick={tick}
        />
        <Area dataKey="scratchBand" stroke="none" fill={BLUE} fillOpacity={0.2} isAnimationActive={false} />
        <Line dataKey="scratch" stroke={BLUE} strokeWidth={2} strokeDasharray={dash} dot={false} activeDot={false} isAnimationActive={false} />
        <Area dataKey="fftBand" stroke="none" fill={RED} fillOpacity={0.2} isAnimationActive={false} />
        <Line dataKey="fft" stroke={RED} strokeWidth={2} strokeDasharray={dash} dot={false} activeDot={false} isAnimationActive={false} />
        <Area dataKey="loraBand" stroke="none" fill={GREEN} fillOpacity={0.2} isAnimationActive={false} />
        <Line dataKey="lora" stroke={GREEN} strokeWidth={2} strokeDasharray={dash} dot={false} activeDot={false} isAnimationActive={false} />
        {cost && (
          <ReferenceLine
            segment={[
              { x: X[0], y: COST_BOUND },
              { x: X[X.length - 1], y: COST_BOUND },
            ]}
            stroke="#000000"
            strokeWidth={2}
            strokeDasharray={DASH}
          />
        )}
      </ComposedChart>
    </div>
  );
}

const LEGEND = [
  { label: METHODS[0], color: BLUE, x: 263, dash: undefined as string | undefined },
  { label: METHODS[1], color: RED, x: 424, dash: undefined as string | undefined },
  { label: METHODS[2], color: GREEN, x: 525, dash: undefined as string | undefined },
  { label: "cost bound", color: "#000000", x: 636, dash: "5.5 2.5" },
];

export default function App() {
  const rewardTop = 58;
  const rewardH = 164;
  const costTop = 254;
  const costH = 166;
  return (
    <div
      style={{
        position: "absolute",
        left: 0,
        top: 0,
        width: 1032,
        height: 460,
        background: "#ffffff",
        fontFamily: FONT,
        overflow: "hidden",
      }}
    >
      {REWARD_PANELS.map((p, i) => (
        <PanelChart key={"r" + i} p={p} left={PLOT_LEFT[i]} top={rewardTop} height={rewardH} cost={false} />
      ))}
      {COST_PANELS.map((p, i) => (
        <PanelChart key={"c" + i} p={p} left={PLOT_LEFT[i]} top={costTop} height={costH} cost={true} />
      ))}
      <svg width={1032} height={460} style={{ position: "absolute", left: 0, top: 0, pointerEvents: "none" }}>
        <rect x={257.5} y={2.5} width={502} height={27} rx={4} fill="#ffffff" stroke="#000000" strokeWidth={1} />
        {LEGEND.map((l) => (
          <g key={l.label}>
            <line x1={l.x} x2={l.x + 32} y1={15} y2={15} stroke={l.color} strokeWidth={2} strokeDasharray={l.dash} />
            <text x={l.x + 43} y={20} fontSize={15} fill={TEXT}>
              {l.label}
            </text>
          </g>
        ))}
        {ENVS.map((name, i) => (
          <text key={name} x={PLOT_LEFT[i] + PLOT_W / 2} y={52} fontSize={16} fill={TEXT} textAnchor="middle">
            {name}
          </text>
        ))}
        {ENVS.map((name, i) => (
          <text key={"s" + name} x={PLOT_LEFT[i] + PLOT_W / 2} y={453} fontSize={16} fill={TEXT} textAnchor="middle">
            Step (1e4)
          </text>
        ))}
        <text x={22} y={139} fontSize={16} fill={TEXT} textAnchor="middle" transform="rotate(-90 22 139)">
          Reward
        </text>
        <text x={28} y={337} fontSize={16} fill={TEXT} textAnchor="middle" transform="rotate(-90 28 337)">
          Cost
        </text>
      </svg>
    </div>
  );
}
